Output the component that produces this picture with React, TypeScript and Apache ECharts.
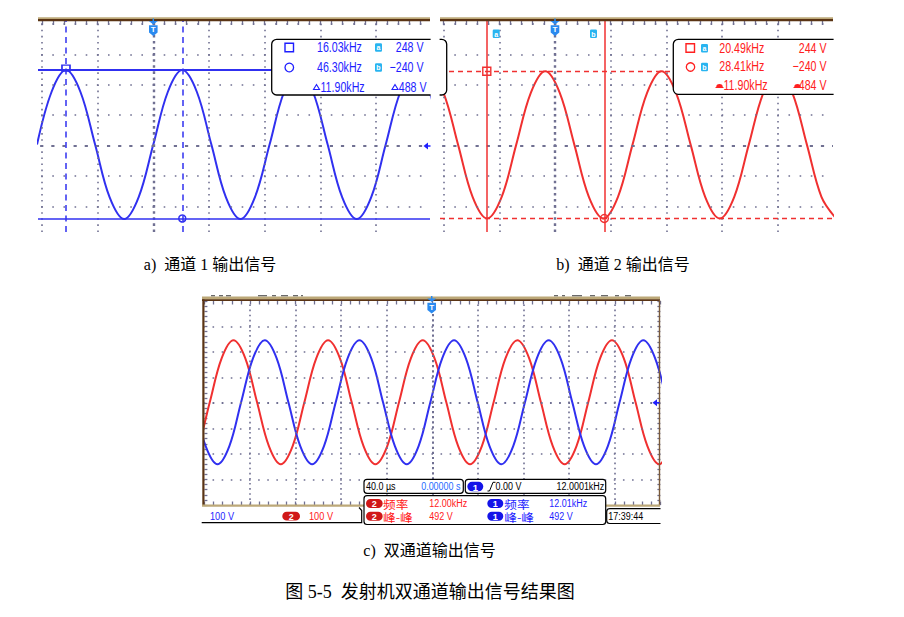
import { useEffect, useRef } from "react";
import * as echarts from "echarts";

// ===== data (time in µs at 40 µs/div, voltage in V at 100 V/div) =====
// a) channel 1 waveform
const ch1PanelA = [
  [-83.5, 3], [-73.1, 176], [-62.7, 248], [-52.3, 176], [-41.8, 3], [-31.4, -170], [-20.9, -242], [-10.5, -170],
  [0, 3], [10.4, 176], [20.8, 248], [31.3, 176], [41.7, 3], [52.1, -170], [62.6, -242], [73.0, -170],
  [83.5, 3], [93.9, 176], [104.3, 248], [114.7, 176], [125.2, 3], [135.6, -170], [146.1, -242], [156.5, -170],
  [166.9, 3], [177.4, 176], [187.8, 248], [198.2, 176], [208.7, 3],
];
// b) channel 2 waveform
const ch2PanelB = [
  [-90.5, 244], [-80.1, 173], [-69.6, 2], [-59.2, -169], [-48.8, -240], [-38.3, -169], [-27.9, 2], [-17.4, 173],
  [-7.0, 244], [3.4, 173], [13.9, 2], [24.3, -169], [34.8, -240], [45.2, -169], [55.6, 2], [66.1, 173],
  [76.5, 244], [86.9, 173], [97.4, 2], [107.8, -169], [118.3, -240], [128.7, -169], [139.1, 2], [149.6, 173],
  [160.0, 244], [170.4, 173], [180.9, 2], [191.3, -169], [201.8, -240],
];
// c) both channels
const ch2PanelC = [
  [-216, -240], [-205.6, -169], [-195.3, 3], [-184.9, 175], [-174.5, 246], [-164.1, 175], [-153.8, 3], [-143.4, -169],
  [-133, -240], [-122.6, -169], [-112.3, 3], [-101.9, 175], [-91.5, 246], [-81.1, 175], [-70.8, 3], [-60.4, -169],
  [-50, -240], [-39.6, -169], [-29.3, 3], [-18.9, 175], [-8.5, 246], [1.9, 175], [12.2, 3], [22.6, -169],
  [33, -240], [43.4, -169], [53.7, 3], [64.1, 175], [74.5, 246], [84.9, 175], [95.2, 3], [105.6, -169],
  [116, -240], [126.4, -169], [136.7, 3], [147.1, 175], [157.5, 246], [167.9, 175], [178.2, 3], [188.6, -169],
  [199, -240], [209.4, -169],
];
const ch1PanelC = [
  [-209.3, 3], [-198.9, -169], [-188.5, -240], [-178.1, -169], [-167.8, 3], [-157.4, 175], [-147, 246], [-136.6, 175],
  [-126.3, 3], [-115.9, -169], [-105.5, -240], [-95.1, -169], [-84.8, 3], [-74.4, 175], [-64, 246], [-53.6, 175],
  [-43.3, 3], [-32.9, -169], [-22.5, -240], [-12.1, -169], [-1.8, 3], [8.6, 175], [19, 246], [29.4, 175],
  [39.7, 3], [50.1, -169], [60.5, -240], [70.9, -169], [81.2, 3], [91.6, 175], [102, 246], [112.4, 175],
  [122.7, 3], [133.1, -169], [143.5, -240], [153.9, -169], [164.2, 3], [174.6, 175], [185, 246], [195.4, 175],
  [205.7, 3],
];

// cursors
const cursorA_t = [-62.7, 20.8];
const cursorA_v = [248, -240];
const cursorB_t = [-49.0, 35.4];
const cursorB_v = [244, -240];

// visible screen ranges
const rangeA_t = [-82.8, 198.7];
const rangeB_t = [-82.6, 199.6];
const rangeAB_v = [-284.5, 409.5];
const rangeC_t = [-200, 200];
const rangeC_v = [-400, 400];

// graticule divisions
const divAB_t = [-80, -40, 40, 80, 120, 160];
const divAB_v = [-200, -100, 100, 200, 300, 400];
const divC_t = [-160, -120, -80, -40, 40, 80, 120, 160];
const divC_v = [-300, -200, -100, 100, 200, 300];

// readouts
const readA_freq = ["16.03kHz", "46.30kHz", "11.90kHz"];
const readA_volt = ["248 V", "\u2212240 V", "488 V"];
const readB_freq = ["20.49kHz", "28.41kHz", "11.90kHz"];
const readB_volt = ["244 V", "\u2212240 V", "484 V"];
const statusC = { timebase: "40.0 \u00b5s", delay: "0.00000 s", trig: "0.00 V", trigFreq: "12.0001kHz", ch1Scale: "100 V", ch2Scale: "100 V", time: "17:39:44" };
const measC_label = ["\u9891\u7387", "\u5cf0-\u5cf0"];
const measC_ch2 = ["12.00kHz", "492 V"];
const measC_ch1 = ["12.01kHz", "492 V"];
const captions = ["a)  \u901a\u9053 1 \u8f93\u51fa\u4fe1\u53f7", "b)  \u901a\u9053 2 \u8f93\u51fa\u4fe1\u53f7", "c)  \u53cc\u901a\u9053\u8f93\u51fa\u4fe1\u53f7", "\u56fe 5-5  \u53d1\u5c04\u673a\u53cc\u901a\u9053\u8f93\u51fa\u4fe1\u53f7\u7ed3\u679c\u56fe"];

// ===== styles =====
const BLUE_W = "#3030f0";
const RED_W = "#f03030";
const BLUE_T = "#1e1eff";
const RED_T = "#ff2020";
const LBLUE_T = "#1f6bff";
const CYAN = "#28b4f0";
const TRIG = "#2a8af0";
const GRID = "#707092";
const TAN = "#bca878";
const BROWN = "#5a3414";
const SCOPE_FONT = "'Liberation Sans', 'DejaVu Sans', sans-serif";
const CJK_FONT = "'Noto Sans CJK SC', sans-serif";
const CAP_FONT = "'Liberation Serif', 'Noto Sans CJK SC', serif";

function hiddenAxis(gridIndex: number, range: number[], extra: any = {}) {
  return {
    type: "value", gridIndex, min: range[0], max: range[1],
    axisLine: { show: false, onZero: false }, axisTick: { show: false }, axisLabel: { show: false }, splitLine: { show: false },
    ...extra,
  };
}

function graticule(divT: number[], divV: number[], hPeriod: number, vPeriod: number, hOff: number, heavy: boolean) {
  const data: any[] = [];
  divV.forEach((v) => data.push({ yAxis: v, lineStyle: { color: GRID, width: 1.6, type: [1.6, hPeriod - 1.6], dashOffset: hOff } }));
  divT.forEach((t) => data.push({ xAxis: t, lineStyle: { color: GRID, width: 1.6, type: [1.6, vPeriod - 1.6] } }));
  if (heavy) {
    data.push({ yAxis: 0, lineStyle: { color: GRID, width: 2, type: [3.2, hPeriod - 3.2], dashOffset: hOff + 0.8 } });
    data.push({ xAxis: 0, lineStyle: { color: GRID, width: 2.4, type: [2.6, vPeriod - 2.6] } });
  } else {
    data.push({ yAxis: 0, lineStyle: { color: GRID, width: 1.8, type: [1.8, hPeriod - 1.8], dashOffset: hOff } });
    data.push({ xAxis: 0, lineStyle: { color: GRID, width: 2, type: [2.2, vPeriod - 2.2] } });
  }
  return data;
}

function gridSeries(xi: number, yi: number, data: any[]) {
  return {
    type: "line", xAxisIndex: xi, yAxisIndex: yi, data: [], z: 1, silent: true,
    markLine: { silent: true, animation: false, symbol: ["none", "none"], label: { show: false }, emphasis: { disabled: true }, data },
  };
}

function wave(xi: number, yi: number, data: number[][], color: string) {
  return {
    type: "line", xAxisIndex: xi, yAxisIndex: yi, data, z: 3, silent: true, smooth: 0.35,
    symbol: "none", showSymbol: false, lineStyle: { color, width: 2 },
  };
}

function stxt(x: number, y: number, text: string, fill: string, size = 14, align = "left", sx = 0.76, family = SCOPE_FONT) {
  return {
    type: "text", x, y, z: 130, scaleX: sx, silent: true,
    style: { text, fill, font: `${size}px ${family}`, textAlign: align, textVerticalAlign: "middle" },
  };
}

function cyanIcon(x: number, y: number, ch: string) {
  return {
    type: "group", x, y, z: 130, silent: true,
    children: [
      { type: "rect", z: 130, shape: { x: 0, y: 0, width: 7, height: 8.5, r: 1.2 }, style: { fill: CYAN } },
      { type: "text", z: 131, x: 3.5, y: 4.5, style: { text: ch, fill: "#fff", font: "bold 7px sans-serif", textAlign: "center", textVerticalAlign: "middle" } },
    ],
  };
}

function badge(x: number, y: number, w: number, h: number, ch: string, fill: string) {
  return {
    type: "group", x, y, z: 130, silent: true,
    children: [
      { type: "rect", z: 130, shape: { x: 0, y: 0, width: w, height: h, r: h / 2 }, style: { fill } },
      { type: "text", z: 131, x: w / 2, y: h / 2 + 0.5, style: { text: ch, fill: "#fff", font: `bold ${h}px ${SCOPE_FONT}`, textAlign: "center", textVerticalAlign: "middle" } },
    ],
  };
}

function trigMark(x: number, y: number) {
  return {
    type: "group", x, y, z: 130, silent: true,
    children: [
      { type: "line", z: 130, shape: { x1: 0, y1: 0, x2: 0, y2: 3 }, style: { stroke: TRIG, lineWidth: 1.5 } },
      { type: "polygon", z: 130, shape: { points: [[-4.5, 2.5], [4.5, 2.5], [0, 6]] }, style: { fill: TRIG } },
      { type: "polygon", z: 130, shape: { points: [[-4.3, 6.8], [4.3, 6.8], [4.3, 14], [0, 17.5], [-4.3, 14]] }, style: { fill: TRIG } },
      { type: "text", z: 131, x: 0, y: 11, style: { text: "T", fill: "#fff", font: "bold 8px sans-serif", textAlign: "center", textVerticalAlign: "middle" } },
    ],
  };
}

function levelMark(xr: number, y: number, color: string) {
  return {
    type: "group", x: xr, y, z: 130, silent: true,
    children: [
      { type: "polygon", z: 130, shape: { points: [[-7, 0], [-2.5, -3.5], [-2.5, 3.5]] }, style: { fill: color } },
      { type: "line", z: 130, shape: { x1: -3, y1: 0, x2: 0, y2: 0 }, style: { stroke: color, lineWidth: 1.5 } },
    ],
  };
}

function rect(x: number, y: number, w: number, h: number, fill: string, z = 110) {
  return { type: "rect", z, silent: true, shape: { x, y, width: w, height: h }, style: { fill } };
}

function box(x: number, y: number, w: number, h: number, r = 5, lw = 1.3) {
  return { type: "rect", z: 120, silent: true, shape: { x, y, width: w, height: h, r }, style: { fill: "#fff", stroke: "#000", lineWidth: lw } };
}

export default function App() {
  const ref = useRef<HTMLDivElement>(null);

  useEffect(() => {
    const chart = echarts.init(ref.current!, null, { renderer: "svg", width: 904, height: 617 });

    const minorAB: number[] = [];
    for (let t = -80; t <= 199; t += 8) minorAB.push(t);

    const tickStyle = { color: GRID, width: 1.3 };
    const noZero = { show: false, onZero: false };

    const elements: any[] = [];
    // ---- panel a frame ----
    elements.push(rect(38, 17.3, 392, 1.8, TAN), rect(38, 19, 392, 2.2, BROWN));
    elements.push(trigMark(153.3, 18.5));
    elements.push(levelMark(430.5, 146, BLUE_T));
    elements.push(box(271.7, 39.3, 175, 55.7));
    elements.push(rect(430.6, 30, 9, 75, "#fff", 125));
    elements.push({ type: "rect", z: 130, silent: true, shape: { x: 285, y: 43.2, width: 8.5, height: 8.5 }, style: { fill: "none", stroke: BLUE_T, lineWidth: 1.4 } });
    elements.push({ type: "circle", z: 130, silent: true, shape: { cx: 289.3, cy: 67.5, r: 4.3 }, style: { fill: "none", stroke: BLUE_T, lineWidth: 1.3 } });
    elements.push(stxt(317, 47.5, readA_freq[0], BLUE_T), stxt(317, 67.5, readA_freq[1], BLUE_T), stxt(320.5, 87, readA_freq[2], BLUE_T));
    elements.push({ type: "polygon", z: 130, silent: true, shape: { points: [[313.5, 89.5], [319.5, 89.5], [316.5, 84.5]] }, style: { fill: "none", stroke: BLUE_T, lineWidth: 1.1 } });
    elements.push(cyanIcon(375, 43.3, "a"), cyanIcon(375, 63.3, "b"));
    elements.push(stxt(423.5, 47.5, readA_volt[0], BLUE_T, 14, "right"), stxt(423.5, 67.5, readA_volt[1], BLUE_T, 14, "right"), stxt(426.5, 87, readA_volt[2], BLUE_T, 14, "right"));
    elements.push({ type: "polygon", z: 130, silent: true, shape: { points: [[392, 89.5], [398, 89.5], [395, 84.5]] }, style: { fill: "none", stroke: BLUE_T, lineWidth: 1.1 } });

    // ---- panel b frame ----
    elements.push(rect(440, 17.3, 393, 1.8, TAN), rect(440, 19, 393, 2.2, BROWN));
    elements.push(trigMark(555, 18.5));
    elements.push(cyanIcon(492.7, 29.5, "a"), cyanIcon(590, 29.5, "b"));
    elements.push(box(673.3, 39.3, 180, 55));
    elements.push(rect(833.6, 30, 70, 75, "#fff", 125));
    elements.push({ type: "rect", z: 130, silent: true, shape: { x: 686, y: 43.7, width: 8.5, height: 8.5 }, style: { fill: "none", stroke: RED_T, lineWidth: 1.4 } });
    elements.push({ type: "circle", z: 130, silent: true, shape: { cx: 690.5, cy: 67, r: 4.2 }, style: { fill: "none", stroke: RED_T, lineWidth: 1.3 } });
    elements.push(cyanIcon(701, 44, "a"), cyanIcon(701, 62.8, "b"));
    elements.push(stxt(719.3, 48, readB_freq[0], RED_T), stxt(719.3, 66.7, readB_freq[1], RED_T), stxt(723.5, 85.5, readB_freq[2], RED_T));
    elements.push(stxt(826.5, 48, readB_volt[0], RED_T, 14, "right"), stxt(826.5, 66.7, readB_volt[1], RED_T, 14, "right"), stxt(826.5, 85.5, readB_volt[2], RED_T, 14, "right"));
    elements.push({ type: "sector", z: 130, silent: true, shape: { cx: 719.5, cy: 87.3, r0: 0, r: 3.3, startAngle: Math.PI, endAngle: Math.PI * 2 }, style: { fill: RED_T } });
    elements.push({ type: "line", z: 130, silent: true, shape: { x1: 715.5, y1: 87.5, x2: 723.5, y2: 87.5 }, style: { stroke: RED_T, lineWidth: 1 } });
    elements.push({ type: "sector", z: 130, silent: true, shape: { cx: 797.5, cy: 87.3, r0: 0, r: 3.3, startAngle: Math.PI, endAngle: Math.PI * 2 }, style: { fill: RED_T } });
    elements.push({ type: "line", z: 130, silent: true, shape: { x1: 793.5, y1: 87.5, x2: 801.5, y2: 87.5 }, style: { stroke: RED_T, lineWidth: 1 } });

    // ---- panel c frame ----
    elements.push(rect(202, 296.6, 458, 2.8, TAN), rect(202, 299.3, 458, 1.8, BROWN));
    elements.push(rect(202.3, 299.3, 2.2, 206, BROWN), rect(658.8, 300, 1.4, 205, "#7a5a3a"));
    elements.push(rect(202, 504.5, 458, 2.2, TAN));
    [[211, 4], [219, 4], [226, 5], [258, 9], [272, 4], [281, 7], [293, 5], [301, 2], [554, 4], [562, 3], [572, 10], [590, 5], [601, 7], [615, 4], [625, 6]].forEach((s) =>
      elements.push(rect(s[0], 295, s[1], 1.3, "#6a6a6a")));
    elements.push(trigMark(431.7, 296));
    elements.push(levelMark(659.5, 402.7, BLUE_T));
    // status strip
    elements.push({ type: "polyline", z: 120, silent: true, shape: { points: [[201.7, 522.7], [361.7, 522.7], [361.7, 510.5], [359, 507.5]] }, style: { stroke: "#000", lineWidth: 1.2, fill: "none" } });
    elements.push(stxt(210, 516.3, statusC.ch1Scale, BLUE_T, 11.5, "left", 0.8));
    elements.push(badge(282.3, 511.8, 17.7, 8.8, "2", "#d01818"));
    elements.push(stxt(309, 516.3, statusC.ch2Scale, RED_T, 11.5, "left", 0.8));
    // timebase box
    elements.push(box(364, 479.3, 99.3, 14, 3, 1.2));
    elements.push(stxt(366, 486.5, statusC.timebase, "#000", 11.5, "left", 0.78));
    elements.push(stxt(460.5, 486.5, statusC.delay, LBLUE_T, 11.5, "right", 0.78));
    // trigger box
    elements.push(box(465.3, 479.3, 140.4, 14, 3, 1.2));
    elements.push(badge(467.3, 481.8, 16, 9.5, "1", "#1414e8"));
    elements.push({ type: "polyline", z: 130, silent: true, shape: { points: [[487.5, 491], [489.5, 491], [493, 482.3], [495.5, 482.3]] }, style: { stroke: "#000", lineWidth: 1, fill: "none" } });
    elements.push(stxt(495.5, 486.5, statusC.trig, "#000", 11.5, "left", 0.78));
    elements.push(stxt(604.3, 486.5, statusC.trigFreq, "#000", 11.5, "right", 0.78));
    // measurement box
    elements.push(box(364, 495.7, 241.7, 28.8, 3, 1.2));
    elements.push(badge(366, 499, 16.7, 9, "2", "#d01818"), badge(366, 511.8, 16.7, 9, "2", "#d01818"));
    elements.push(badge(487.3, 499, 16, 9, "1", "#1414e8"), badge(487.3, 511.8, 16, 9, "1", "#1414e8"));
    elements.push(stxt(383, 503.5, measC_label[0], RED_T, 11.5, "left", 1.1, CJK_FONT), stxt(383, 516.3, measC_label[1], RED_T, 11.5, "left", 1.1, CJK_FONT));
    elements.push(stxt(504.3, 503.5, measC_label[0], BLUE_T, 11.5, "left", 1.1, CJK_FONT), stxt(504.3, 516.3, measC_label[1], BLUE_T, 11.5, "left", 1.1, CJK_FONT));
    elements.push(stxt(429.3, 503.5, measC_ch2[0], RED_T, 11.5, "left", 0.78), stxt(429.3, 516.3, measC_ch2[1], RED_T, 11.5, "left", 0.78));
    elements.push(stxt(549.3, 503.5, measC_ch1[0], BLUE_T, 11.5, "left", 0.78), stxt(549.3, 516.3, measC_ch1[1], BLUE_T, 11.5, "left", 0.78));
    // clock box
    elements.push(box(606.7, 508.7, 60, 14.8, 3, 1.2));
    elements.push(rect(660.5, 505, 10, 20, "#fff", 125));
    elements.push(stxt(608.3, 516.2, statusC.time, "#000", 11.5, "left", 0.78));

    // ---- captions ----
    elements.push({ type: "text", z: 130, x: 210, y: 264, silent: true, style: { text: captions[0], fill: "#000", font: `16px ${CAP_FONT}`, textAlign: "center", textVerticalAlign: "middle" } });
    elements.push({ type: "text", z: 130, x: 623, y: 264, silent: true, style: { text: captions[1], fill: "#000", font: `16px ${CAP_FONT}`, textAlign: "center", textVerticalAlign: "middle" } });
    elements.push({ type: "text", z: 130, x: 429.5, y: 550, silent: true, style: { text: captions[2], fill: "#000", font: `16px ${CAP_FONT}`, textAlign: "center", textVerticalAlign: "middle" } });
    elements.push({ type: "text", z: 130, x: 430, y: 591.5, silent: true, style: { text: captions[3], fill: "#000", font: `18px ${CAP_FONT}`, textAlign: "center", textVerticalAlign: "middle" } });

    const option: any = {
      animation: false,
      backgroundColor: "#fff",
      grid: [
        { left: 38, top: 21, width: 392, height: 211 },
        { left: 440, top: 21, width: 393, height: 211 },
        { left: 204.4, top: 301, width: 456, height: 204 },
      ],
      xAxis: [
        hiddenAxis(0, rangeA_t),
        hiddenAxis(0, rangeA_t, { position: "top", axisLine: noZero, axisTick: { show: true, inside: true, length: 4, customValues: minorAB, lineStyle: tickStyle } }),
        hiddenAxis(1, rangeB_t),
        hiddenAxis(1, rangeB_t, { position: "top", axisLine: noZero, axisTick: { show: true, inside: true, length: 4, customValues: minorAB, lineStyle: tickStyle } }),
        hiddenAxis(2, rangeC_t, { position: "bottom", axisLine: noZero, interval: 8, axisTick: { show: true, inside: true, length: 3.5, lineStyle: tickStyle } }),
        hiddenAxis(2, rangeC_t, { position: "top", axisLine: noZero, interval: 8, axisTick: { show: true, inside: true, length: 3.5, lineStyle: tickStyle } }),
      ],
      yAxis: [
        hiddenAxis(0, rangeAB_v),
        hiddenAxis(1, rangeAB_v),
        hiddenAxis(2, rangeC_v, { position: "left", axisLine: noZero, interval: 20, axisTick: { show: true, inside: true, length: 3, lineStyle: tickStyle } }),
        hiddenAxis(2, rangeC_v, { position: "right", axisLine: noZero, interval: 20, axisTick: { show: true, inside: true, length: 3, lineStyle: tickStyle } }),
      ],
      series: [
        gridSeries(0, 0, graticule(divAB_t, divAB_v, 11.14, 6.08, 8, true)),
        gridSeries(2, 1, graticule(divAB_t, divAB_v, 11.14, 6.08, 8, true)),
        gridSeries(4, 2, graticule(divC_t, divC_v, 9.12, 5.1, 0.8, false)),
        wave(0, 0, ch1PanelA, BLUE_W),
        wave(2, 1, ch2PanelB, RED_W),
        wave(4, 2, ch2PanelC, RED_W),
        wave(4, 2, ch1PanelC, BLUE_W),
        {
          type: "line", xAxisIndex: 0, yAxisIndex: 0, data: [], z: 5, silent: true,
          markLine: {
            silent: true, animation: false, symbol: ["none", "none"], label: { show: false }, emphasis: { disabled: true },
            data: [
              { xAxis: cursorA_t[0], lineStyle: { color: BLUE_W, width: 1.5, type: [6, 4.5] } },
              { xAxis: cursorA_t[1], lineStyle: { color: BLUE_W, width: 1.5, type: [6, 4.5] } },
              { yAxis: cursorA_v[0], lineStyle: { color: BLUE_W, width: 1.8, type: "solid" } },
              { yAxis: cursorA_v[1], lineStyle: { color: BLUE_W, width: 1.5, type: "solid" } },
            ],
          },
          markPoint: {
            silent: true, animation: false, label: { show: false },
            data: [
              { coord: [cursorA_t[0], cursorA_v[0]], symbol: "rect", symbolSize: [8, 6], symbolOffset: [0, -2], itemStyle: { color: "rgba(0,0,0,0)", borderColor: BLUE_W, borderWidth: 1.5 } },
              { coord: [cursorA_t[1], cursorA_v[1]], symbol: "circle", symbolSize: 7, itemStyle: { color: "rgba(0,0,0,0)", borderColor: BLUE_W, borderWidth: 1.5 } },
            ],
          },
        },
        {
          type: "line", xAxisIndex: 2, yAxisIndex: 1, data: [], z: 5, silent: true,
          markLine: {
            silent: true, animation: false, symbol: ["none", "none"], label: { show: false }, emphasis: { disabled: true },
            data: [
              { xAxis: cursorB_t[0], lineStyle: { color: RED_W, width: 1.5, type: "solid" } },
              { xAxis: cursorB_t[1], lineStyle: { color: RED_W, width: 1.5, type: "solid" } },
              { yAxis: cursorB_v[0], lineStyle: { color: RED_W, width: 1.3, type: [5, 4] } },
              { yAxis: cursorB_v[1], lineStyle: { color: RED_W, width: 1.3, type: [5, 4] } },
            ],
          },
          markPoint: {
            silent: true, animation: false, label: { show: false },
            data: [
              { coord: [cursorB_t[0], cursorB_v[0]], symbol: "rect", symbolSize: 8, itemStyle: { color: "rgba(0,0,0,0)", borderColor: RED_W, borderWidth: 1.4 } },
              { coord: [cursorB_t[1], cursorB_v[1]], symbol: "circle", symbolSize: 8, itemStyle: { color: "rgba(0,0,0,0)", borderColor: RED_W, borderWidth: 1.4 } },
            ],
          },
        },
      ],
      graphic: { elements },
    };

    chart.setOption(option);
    return () => chart.dispose();
  }, []);

  return <div ref={ref} style={{ position: "absolute", left: 0, top: 0, width: 904, height: 617, background: "#fff" }} />;
}
